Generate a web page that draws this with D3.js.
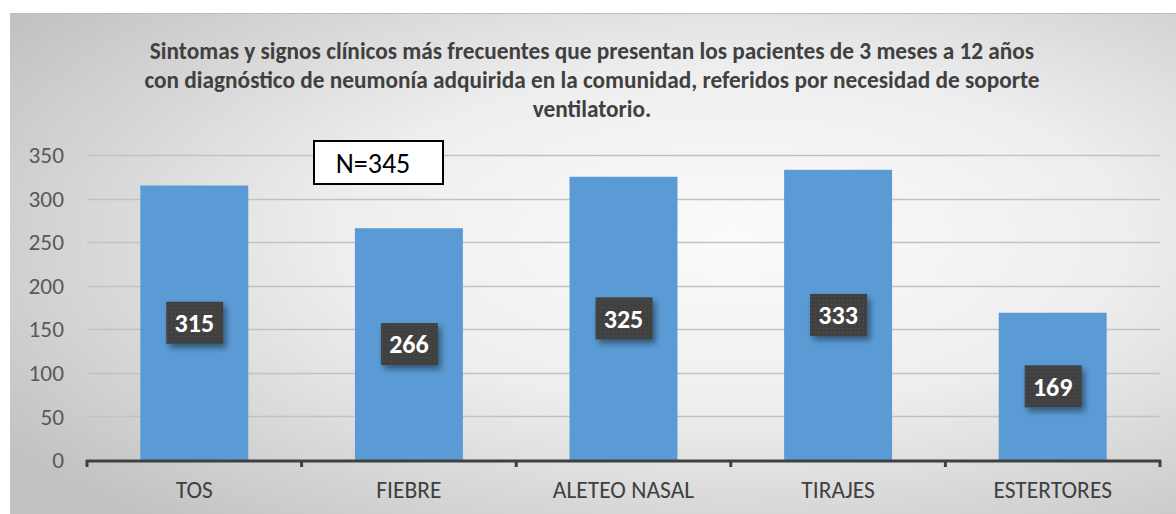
<!DOCTYPE html>
<html>
<head>
<meta charset="utf-8">
<script src="https://cdn.jsdelivr.net/npm/d3@7"></script>
<style>
  body { margin: 0; background: #fff; }
  svg { display: block; }
</style>
</head>
<body>
<script>
'use strict';

// chart data
var categories = ['TOS', 'FIEBRE', 'ALETEO NASAL', 'TIRAJES', 'ESTERTORES'];
var values = [315, 266, 325, 333, 169];
var yTicks = [0, 50, 100, 150, 200, 250, 300, 350];
var titleLines = [
    'Sintomas y signos clínicos más frecuentes que presentan los pacientes de 3 meses a 12 años',
    'con diagnóstico de neumonía adquirida en la comunidad, referidos por necesidad de soporte',
    'ventilatorio.'
];
var noteText = 'N=345';

var settings = {
    width: 1176,
    height: 514,
    left: 87,
    right: 1160,
    top: 155,
    bottom: 460,
    font: 'Carlito, Calibri, "Open Sans", sans-serif'
};

var svg = d3.select('body').append('svg')
    .attr('width', settings.width)
    .attr('height', settings.height);

var defs = svg.append('defs');

// gray background gradient
var grad = defs.append('radialGradient').attr('id', 'bg')
    .attr('cx', '0.62').attr('cy', '0.45').attr('r', '0.75');
grad.append('stop').attr('offset', '0').attr('stop-color', '#fbfbfb');
grad.append('stop').attr('offset', '0.45').attr('stop-color', '#eeeeee');
grad.append('stop').attr('offset', '1').attr('stop-color', '#c2c2c2');

// dotted pattern for the label boxes
var pat = defs.append('pattern').attr('id', 'dots')
    .attr('width', 4).attr('height', 4).attr('patternUnits', 'userSpaceOnUse');
pat.append('rect').attr('width', 4).attr('height', 4).attr('fill', '#3f3f3f');
pat.append('rect').attr('x', 1).attr('y', 1).attr('width', 1).attr('height', 1).attr('fill', '#5a5a5a');

var shadow = defs.append('filter').attr('id', 'shadow')
    .attr('x', '-30%').attr('y', '-30%').attr('width', '170%').attr('height', '170%');
shadow.append('feDropShadow').attr('dx', 3).attr('dy', 4).attr('stdDeviation', 3)
    .attr('flood-color', '#000').attr('flood-opacity', 0.45);

svg.append('rect')
    .attr('x', 10).attr('y', 13)
    .attr('width', settings.width - 10).attr('height', settings.height - 13)
    .attr('fill', 'url(#bg)');
svg.append('line')
    .attr('x1', 10).attr('x2', settings.width).attr('y1', 13.5).attr('y2', 13.5)
    .attr('stroke', '#bdbdbd');

// scales
var x = d3.scaleBand()
    .domain(categories)
    .range([settings.left, settings.right])
    .paddingInner(0.497)
    .paddingOuter(0.2485);

var y = d3.scaleLinear()
    .domain([0, 350])
    .range([settings.bottom, settings.top]);

// gridlines
svg.append('g').selectAll('line').data(yTicks.slice(1)).enter().append('line')
    .attr('x1', settings.left).attr('x2', settings.right)
    .attr('y1', function (d) { return Math.round(y(d)) + 0.5; })
    .attr('y2', function (d) { return Math.round(y(d)) + 0.5; })
    .attr('stroke', '#c2c2c2').attr('stroke-width', 1.3);

// y axis labels
svg.append('g').selectAll('text').data(yTicks).enter().append('text')
    .attr('x', 64)
    .attr('y', function (d) { return y(d); })
    .attr('dy', '0.35em')
    .attr('text-anchor', 'end')
    .attr('font-family', settings.font)
    .attr('font-size', '23.3px')
    .attr('fill', '#595959')
    .text(function (d) { return d; });

// bars
svg.append('g').selectAll('rect').data(values).enter().append('rect')
    .attr('x', function (d, i) { return x(categories[i]); })
    .attr('y', function (d) { return y(d); })
    .attr('width', x.bandwidth())
    .attr('height', function (d) { return settings.bottom - y(d); })
    .attr('fill', '#5b9bd5');

// x axis line with ticks between categories
var step = x.step();
var tickX = d3.range(categories.length + 1).map(function (i) { return settings.left + i * step; });
var axis = svg.append('g');
axis.append('line')
    .attr('x1', settings.left - 1).attr('x2', settings.right + 1)
    .attr('y1', settings.bottom + 1).attr('y2', settings.bottom + 1)
    .attr('stroke', '#404040').attr('stroke-width', 3);
axis.selectAll('.tick').data(tickX).enter().append('line')
    .attr('x1', function (d) { return d; }).attr('x2', function (d) { return d; })
    .attr('y1', settings.bottom).attr('y2', settings.bottom + 7)
    .attr('stroke', '#404040').attr('stroke-width', 3);

// x labels
svg.append('g').selectAll('text').data(categories).enter().append('text')
    .attr('x', function (d) { return x(d) + x.bandwidth() / 2; })
    .attr('y', 498)
    .attr('text-anchor', 'middle')
    .attr('font-family', settings.font)
    .attr('font-size', '23.5px')
    .attr('fill', '#404040')
    .text(function (d) { return d; });

// value labels
var lab = svg.append('g').selectAll('g').data(values).enter().append('g')
    .attr('transform', function (d, i) {
        var cx = x(categories[i]) + x.bandwidth() / 2;
        var cy = (y(d) + settings.bottom) / 2;
        return 'translate(' + cx + ',' + cy + ')';
    });
lab.append('rect')
    .attr('x', -28).attr('y', -21).attr('width', 57).attr('height', 42)
    .attr('fill', 'url(#dots)')
    .attr('filter', 'url(#shadow)');
lab.append('text')
    .attr('text-anchor', 'middle')
    .attr('dy', '0.36em')
    .attr('font-family', settings.font)
    .attr('font-weight', 'bold')
    .attr('font-size', '26px')
    .attr('fill', '#ffffff')
    .text(function (d) { return d; });

// title
svg.append('g').selectAll('text').data(titleLines).enter().append('text')
    .attr('x', 592)
    .attr('y', function (d, i) { return 59 + i * 29; })
    .attr('text-anchor', 'middle')
    .attr('font-family', settings.font)
    .attr('font-weight', 'bold')
    .attr('font-size', '23.3px')
    .attr('fill', '#404040')
    .text(function (d) { return d; });

// N box
svg.append('rect')
    .attr('x', 314).attr('y', 141).attr('width', 129).attr('height', 43)
    .attr('fill', '#fff').attr('stroke', '#000').attr('stroke-width', 2);
svg.append('text')
    .attr('x', 373).attr('y', 163)
    .attr('dy', '0.35em')
    .attr('text-anchor', 'middle')
    .attr('font-family', settings.font)
    .attr('font-size', '28px')
    .attr('fill', '#000')
    .text(noteText);
</script>
</body>
</html>
